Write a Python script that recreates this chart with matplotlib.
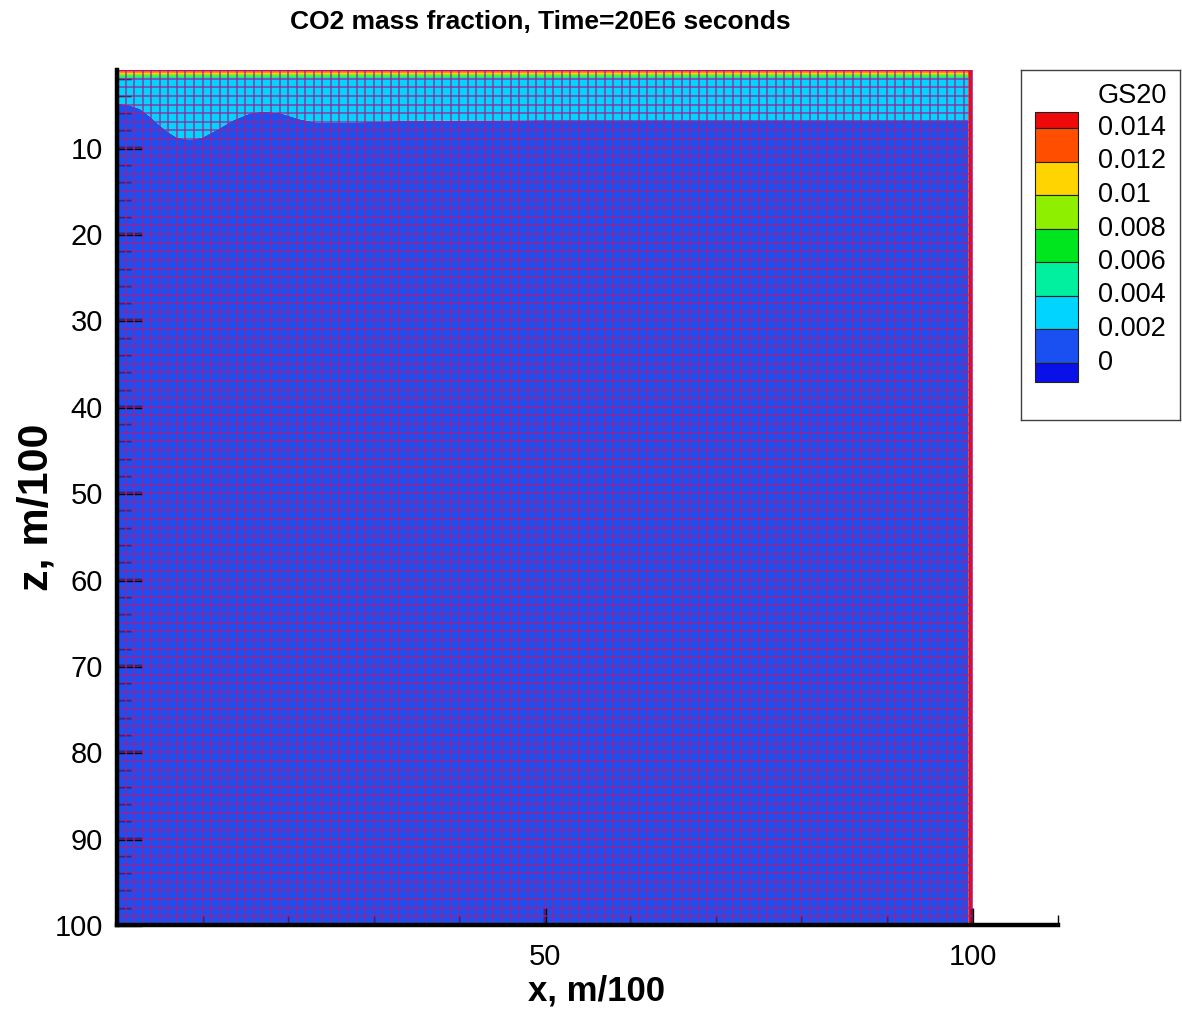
import numpy as np
import matplotlib
matplotlib.use("Agg")
import matplotlib.pyplot as plt
from matplotlib.patches import Rectangle

plt.rcParams['font.family'] = ['Liberation Sans', 'DejaVu Sans']

# ---- data -------------------------------------------------------------
title = "CO2 mass fraction, Time=20E6 seconds"
var_name = "GS20"

# contour levels of the CO2 mass fraction and their fill colours
levels = [-0.002, 0.0, 0.002, 0.004, 0.006, 0.008, 0.010, 0.012, 0.014, 0.020]
level_labels = ["0.014", "0.012", "0.01", "0.008", "0.006", "0.004", "0.002", "0"]
fill_colors = ["#0a10e8", "#1a50f2", "#00d4ff", "#00f0a0", "#00e61e",
               "#8ef000", "#ffd400", "#ff4e00", "#ee0a0a"]

# depth of the CO2-rich (cyan) layer along x
front_x = [0, 1.2, 2.7, 4.0, 5.0, 6.0, 7.0, 8.5, 10.0, 11.7, 13.6, 15.6, 17.1,
           19.1, 21.4, 23.4, 27.3, 33.0, 50.0, 75.0, 99.5]
front_z = [4.9, 5.0, 5.5, 6.5, 7.4, 8.2, 8.8, 9.1, 8.8, 7.9, 6.8, 6.0, 5.8,
           6.0, 6.7, 7.1, 7.1, 6.9, 6.8, 6.8, 6.8]

surface_value = 0.016     # top boundary row
boundary_value = 0.016    # right boundary column
layer_value = 0.003       # dissolved CO2 layer
brine_value = 0.001       # below the layer

z_top, z_bottom = 1.0, 100.0
x_left, x_right = 0.0, 100.0

# ---- field ------------------------------------------------------------
x_nodes = np.array(front_x + [99.52, x_right])
z_nodes = np.concatenate([[z_top], np.arange(2.0, z_bottom + 1e-9, 0.05)])
XX, ZZ = np.meshgrid(x_nodes, z_nodes)
front_cols = np.array(front_z + [front_z[-1], front_z[-1]])
# mass fraction falls from the layer value to the brine value across the front
mid = 0.5 * (layer_value + brine_value)
field = np.clip(mid + 0.001 * (front_cols[None, :] - ZZ), brine_value, layer_value)
field[0, :] = surface_value
field[:, -2:] = boundary_value

# ---- figure -----------------------------------------------------------
W, H = 1182, 1017
fig = plt.figure(figsize=(W / 100, H / 100), dpi=100)
fig.patch.set_facecolor("white")

ax_l, ax_r, ax_t, ax_b = 117, 1058, 70, 925
ax = fig.add_axes([ax_l / W, 1 - ax_b / H, (ax_r - ax_l) / W, (ax_b - ax_t) / H])

ax.contourf(XX, ZZ, field, levels=levels, colors=fill_colors, antialiased=True)

# computational mesh
mesh_color = "#a02090"
ax.vlines(np.arange(x_left, x_right + 0.5, 1.0), z_top, z_bottom,
          colors=mesh_color, linewidth=1.3, alpha=0.7, zorder=2)
ax.hlines(np.arange(z_top, z_bottom + 0.5, 1.0), x_left, x_right,
          colors=mesh_color, linewidth=1.3, alpha=0.7, zorder=2)

ax.set_xlim(0, 110)
ax.set_ylim(100, 1)
ax.set_facecolor("white")
for s in ("top", "right"):
    ax.spines[s].set_visible(False)
for s in ("left", "bottom"):
    ax.spines[s].set_linewidth(3.2)
    ax.spines[s].set_color("black")
    ax.spines[s].set_zorder(5)

ax.set_xticks([50, 100])
ax.set_xticks([10, 20, 30, 40, 60, 70, 80, 90, 110], minor=True)
ax.set_yticks(np.arange(10, 101, 10))
ax.set_yticks([z for z in range(2, 101, 2) if z % 10], minor=True)
ax.tick_params(axis="both", which="both", direction="in", color="black")
ax.tick_params(axis="y", which="major", length=18, width=2.4, labelsize=21, pad=10)
ax.tick_params(axis="y", which="minor", length=10, width=1.0)
ax.tick_params(axis="x", which="major", length=12, width=2.4, labelsize=21, pad=13)
ax.tick_params(axis="x", which="minor", length=7, width=1.0)
for t in ax.get_xticklines() + ax.get_yticklines():
    t.set_zorder(6)

ax.set_xlabel("x, m/100", fontsize=25, fontweight="bold")
ax.xaxis.set_label_coords((597 - ax_l) / (ax_r - ax_l), -0.058)
ax.set_ylabel("z, m/100", fontsize=31, fontweight="bold")
ax.yaxis.set_label_coords(-(ax_l - 57) / (ax_r - ax_l), (ax_b - 507) / (ax_b - ax_t))

fig.text(540 / W, 1 - 22 / H, title, ha="center", va="center",
         fontsize=19, fontweight="bold")

# ---- legend -----------------------------------------------------------
lg_l, lg_r, lg_t, lg_b = 1021, 1180, 70, 420
lax = fig.add_axes([lg_l / W, 1 - lg_b / H, (lg_r - lg_l) / W, (lg_b - lg_t) / H])
lax.set_xlim(0, lg_r - lg_l)
lax.set_ylim(lg_b - lg_t, 0)
lax.set_xticks([])
lax.set_yticks([])
lax.set_facecolor("white")
for s in lax.spines.values():
    s.set_linewidth(1.0)
    s.set_color("#404040")

box_x0, box_w = 14, 43
end_h, mid_h, top_y = 16, 33.5, 42
edges = [top_y, top_y + end_h]
for _ in range(7):
    edges.append(edges[-1] + mid_h)
edges.append(edges[-1] + 19)
legend_colors = fill_colors[::-1]
for i, c in enumerate(legend_colors):
    lax.add_patch(Rectangle((box_x0, edges[i]), box_w, edges[i + 1] - edges[i],
                            facecolor=c, edgecolor="#202020", linewidth=0.8))
for i, lab in enumerate(level_labels):
    lax.text(77, edges[i + 1], lab, ha="left", va="center", fontsize=19.5)
lax.text(77, 26, var_name, ha="left", va="center", fontsize=19.5)

fig.savefig("out.png", dpi=100, facecolor="white")
